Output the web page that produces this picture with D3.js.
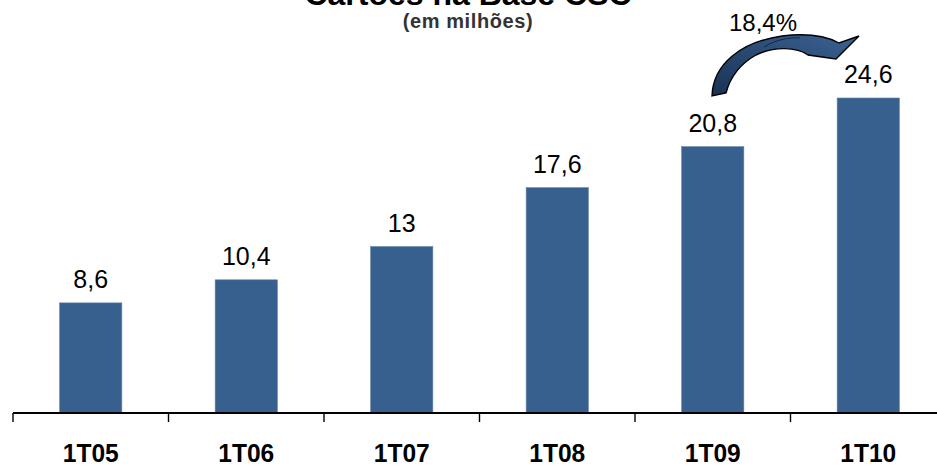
<!DOCTYPE html>
<html>
<head>
<meta charset="utf-8">
<script src="https://cdn.jsdelivr.net/npm/d3@7"></script>
<style>
  html, body { margin: 0; padding: 0; background: #fff; }
  svg { display: block; }
</style>
</head>
<body>
<svg id="chart" width="937" height="467"></svg>
<script>
// Cards in the base, quarterly (millions)
const categories = ["1T05", "1T06", "1T07", "1T08", "1T09", "1T10"];
const values = [8.6, 10.4, 13, 17.6, 20.8, 24.6];
const valueLabels = ["8,6", "10,4", "13", "17,6", "20,8", "24,6"];
const growthLabel = "18,4%";
const title = "Cartões na Base CSC";
const subtitle = "(em milhões)";

const W = 937, H = 467;
const baseY = 413;
const svg = d3.select("#chart");

const x = d3.scaleBand()
  .domain(categories)
  .range([13, 13 + 6 * 155.5])
  .paddingInner(0.6)
  .paddingOuter(0.3);

const y = d3.scaleLinear()
  .domain([0, 24.6])
  .range([baseY, 98]);

// Title (runs off the top edge) and subtitle
svg.append("text")
  .attr("x", 468).attr("y", 5)
  .attr("text-anchor", "middle")
  .attr("font-family", "Liberation Sans, Arial, sans-serif")
  .attr("font-weight", "bold")
  .attr("font-size", 32)
  .attr("fill", "#000")
  .text(title);

svg.append("text")
  .attr("x", 468).attr("y", 28)
  .attr("text-anchor", "middle")
  .attr("font-family", "Liberation Sans, Arial, sans-serif")
  .attr("font-weight", "bold")
  .attr("font-size", 20)
  .attr("letter-spacing", 0.6)
  .attr("fill", "#333")
  .text(subtitle);

// Bars
svg.append("g").selectAll("rect")
  .data(values)
  .join("rect")
  .attr("x", (d, i) => x(categories[i]))
  .attr("y", d => y(d))
  .attr("width", x.bandwidth())
  .attr("height", d => baseY - y(d))
  .attr("fill", "#37608f")
  .attr("stroke", "#5f82ab")
  .attr("stroke-width", 0.6);

// Value labels
svg.append("g").selectAll("text")
  .data(values)
  .join("text")
  .attr("x", (d, i) => x(categories[i]) + x.bandwidth() / 2)
  .attr("y", d => y(d) - 15)
  .attr("text-anchor", "middle")
  .attr("font-family", "Liberation Sans, Arial, sans-serif")
  .attr("font-size", 25)
  .attr("fill", "#000")
  .text((d, i) => valueLabels[i]);

// Category axis: baseline, boundary ticks, labels
const axis = svg.append("g");
axis.append("line")
  .attr("x1", x.range()[0]).attr("x2", W)
  .attr("y1", baseY).attr("y2", baseY)
  .attr("stroke", "#000").attr("stroke-width", 2.2);

const gap = x.step() - x.bandwidth();
axis.selectAll("line.tick")
  .data(categories)
  .join("line")
  .attr("class", "tick")
  .attr("x1", d => x(d) - gap / 2).attr("x2", d => x(d) - gap / 2)
  .attr("y1", baseY).attr("y2", baseY + 9)
  .attr("stroke", "#000").attr("stroke-width", 1.4);

axis.selectAll("text")
  .data(categories)
  .join("text")
  .attr("x", d => x(d) + x.bandwidth() / 2)
  .attr("y", 462)
  .attr("text-anchor", "middle")
  .attr("font-family", "Liberation Sans, Arial, sans-serif")
  .attr("font-weight", "bold")
  .attr("font-size", 25)
  .attr("textLength", 56)
  .attr("lengthAdjust", "spacingAndGlyphs")
  .attr("fill", "#000")
  .text(d => d);

// Curved growth arrow from 1T09 to 1T10
const defs = svg.append("defs");
const grad = defs.append("linearGradient")
  .attr("id", "arrowFill")
  .attr("x1", "0%").attr("y1", "100%")
  .attr("x2", "100%").attr("y2", "0%");
grad.append("stop").attr("offset", "0%").attr("stop-color", "#1a3253");
grad.append("stop").attr("offset", "50%").attr("stop-color", "#294a74");
grad.append("stop").attr("offset", "100%").attr("stop-color", "#3d6494");

svg.append("path")
  .attr("d", "M712,96 C713,64 741,42 782,36 C807,33 826,36 839,43 L859,36 L836,59 L808,55 C797,47 774,46 756,55 C740,64 730,78 726,93 Z")
  .attr("fill", "url(#arrowFill)")
  .attr("stroke", "#000")
  .attr("stroke-width", 1.4)
  .attr("stroke-linejoin", "miter");

// fold line across the ribbon
svg.append("path")
  .attr("d", "M764,47 C775,40 789,37 800,38")
  .attr("fill", "none")
  .attr("stroke", "#0e1c30")
  .attr("stroke-width", 0.8);

svg.append("text")
  .attr("x", 763).attr("y", 31)
  .attr("text-anchor", "middle")
  .attr("font-family", "Liberation Sans, Arial, sans-serif")
  .attr("font-size", 24)
  .attr("fill", "#000")
  .text(growthLabel);
</script>
</body>
</html>
